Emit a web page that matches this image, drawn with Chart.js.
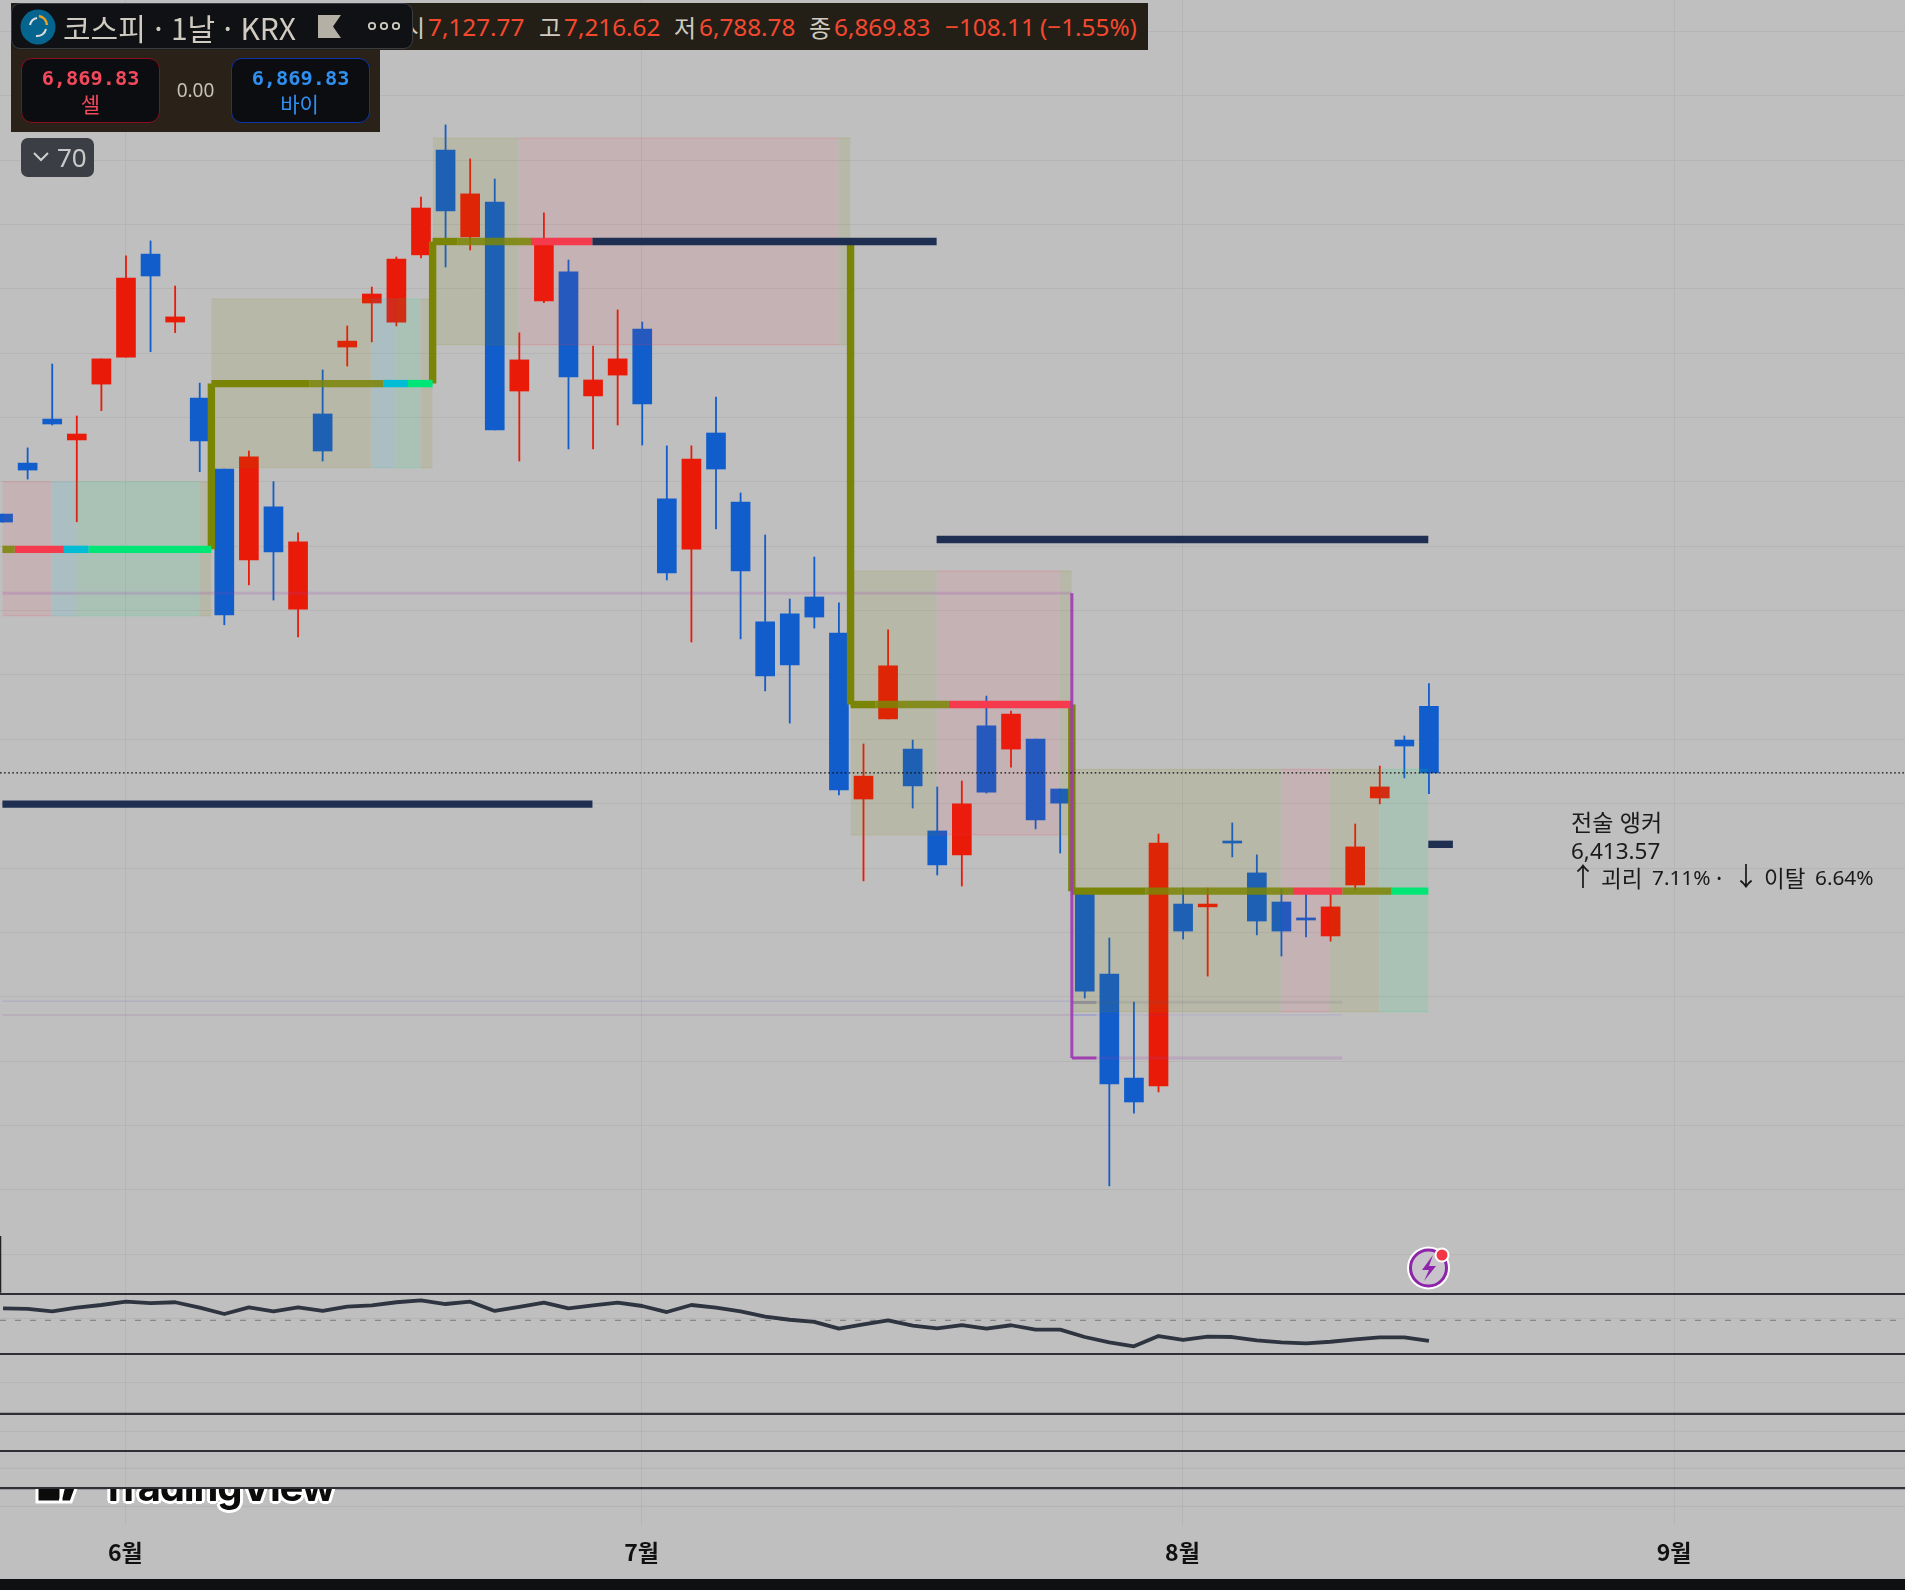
<!DOCTYPE html>
<html lang="ko"><head><meta charset="utf-8"><title>코스피 1날 KRX</title>
<script src="https://cdn.jsdelivr.net/npm/chart.js@4"></script>
<style>
html,body{margin:0;padding:0;background:#0f1012;}
#wrap{position:relative;width:1905px;height:1590px;overflow:hidden;background:#0f1012;}
#c{position:absolute;left:0;top:0;}
.abs{position:absolute;white-space:nowrap;}
.ui{font-family:"Noto Sans","Noto Sans CJK KR",sans-serif;}
.kr{font-family:"Noto Sans CJK KR","Noto Sans",sans-serif;}
.lab{color:#cfcbc0;font-size:24px;top:9px;line-height:36px;font-family:"Noto Sans CJK KR",sans-serif;}
.val{color:#f4492f;font-size:24.3px;top:9px;line-height:36px;font-family:"Noto Sans",sans-serif;}
.note{top:860px;font-size:22.5px;line-height:34px;color:#1a1a1a;font-family:"Noto Sans CJK KR",sans-serif;}
.num{top:860px;font-size:20.8px;line-height:34px;color:#1a1a1a;font-family:"Noto Sans",sans-serif;}
</style></head><body><div id="wrap">
<canvas id="c" width="1905" height="1579"></canvas>

<div class="abs" style="left:30px;top:1489px;width:320px;height:30px;overflow:hidden;">
  <div class="abs" style="left:70px;top:-30px;font:700 40px/56px Inter,sans-serif;letter-spacing:-1.2px;color:#0b0b0b;text-shadow:3px 0 0 #fff,-3px 0 0 #fff,0 3px 0 #fff,0 -3px 0 #fff,2.2px 2.2px 0 #fff,-2.2px 2.2px 0 #fff,2.2px -2.2px 0 #fff,-2.2px -2.2px 0 #fff;">TradingView</div>
  <svg class="abs" style="left:0;top:0" width="60" height="30"><path d="M7 -20H31V13H7Z M38 -20H53L41 13H30Z" fill="#0b0b0b" stroke="#fff" stroke-width="3"/></svg>
</div>

<div class="abs" style="left:11px;top:3px;width:1137px;height:47px;background:#231f17;"></div>
<div class="abs" style="left:11px;top:50px;width:369px;height:82px;background:#2a2118;"></div>
<span class="abs lab" style="left:403px;">시</span>
<span class="abs val" style="left:428px;">7,127.77</span>
<span class="abs lab" style="left:539px;">고</span>
<span class="abs val" style="left:564px;">7,216.62</span>
<span class="abs lab" style="left:674px;">저</span>
<span class="abs val" style="left:699px;">6,788.78</span>
<span class="abs lab" style="left:809px;">종</span>
<span class="abs val" style="left:834px;">6,869.83</span>
<span class="abs val" style="left:945px;">−108.11</span>
<span class="abs val" style="left:1040px;">(−1.55%)</span>

<div class="abs" style="left:11px;top:3px;width:402px;height:46px;background:#0f1114;border:1px solid #3a3d42;border-radius:9px;box-sizing:border-box;"></div>
<svg class="abs" style="left:19px;top:8px" width="38" height="38"><circle cx="19" cy="19" r="17.5" fill="#05658f"/><path d="M11 17A9 9 0 0 1 18 10" fill="none" stroke="#ddd" stroke-width="2"/><path d="M20 8A10 10 0 0 1 28 17" fill="none" stroke="#f0a020" stroke-width="2.5"/><path d="M27 21A9 9 0 0 1 17 28" fill="none" stroke="#ddd" stroke-width="2"/></svg>
<span class="abs kr" style="left:63px;top:6px;font-size:30px;line-height:42px;color:#cfcbc0;">코스피 · 1날 · KRX</span>
<svg class="abs" style="left:318px;top:15px" width="24" height="24"><path d="M0 0H23L15 11.5L23 23H0Z" fill="#b5b0a5"/></svg>
<svg class="abs" style="left:366px;top:19px" width="36" height="14" fill="none" stroke="#cfcbc0" stroke-width="1.8"><circle cx="6" cy="7" r="3.2"/><circle cx="18" cy="7" r="3.2"/><circle cx="30" cy="7" r="3.2"/></svg>

<div class="abs" style="left:21px;top:58px;width:139px;height:65px;background:#0c0d11;border:1.5px solid #8a0e20;border-radius:11px;box-sizing:border-box;"></div>
<span class="abs" style="left:21px;width:139px;top:64px;text-align:center;font:700 20.3px/28px 'DejaVu Sans Mono',monospace;color:#f4495c;">6,869.83</span>
<span class="abs kr" style="left:21px;width:139px;top:89px;text-align:center;font-size:21px;line-height:28px;color:#f4495c;">셀</span>
<span class="abs ui" style="left:160px;width:71px;top:76px;text-align:center;font-size:19px;line-height:28px;color:#c4c1b6;">0.00</span>
<div class="abs" style="left:231px;top:58px;width:139px;height:65px;background:#0c0d11;border:1.5px solid #0d35a8;border-radius:11px;box-sizing:border-box;"></div>
<span class="abs" style="left:231px;width:139px;top:64px;text-align:center;font:700 20.3px/28px 'DejaVu Sans Mono',monospace;color:#2f90f0;">6,869.83</span>
<span class="abs kr" style="left:230px;width:139px;top:89px;text-align:center;font-size:21px;line-height:28px;color:#2f90f0;">바이</span>

<div class="abs" style="left:21px;top:138px;width:73px;height:39px;background:#3b3e44;border-radius:7px;"></div>
<svg class="abs" style="left:32px;top:150px" width="18" height="14"><path d="M2 3L9 10L16 3" fill="none" stroke="#cfcfcf" stroke-width="2"/></svg>
<span class="abs ui" style="left:57px;top:138px;font-size:26px;line-height:39px;color:#c8c8c8;">70</span>

<span class="abs kr" style="left:1571px;top:804px;font-size:23px;line-height:34px;color:#1a1a1a;">전술 앵커</span>
<span class="abs ui" style="left:1571px;top:836px;font-size:22.5px;line-height:30px;color:#1a1a1a;">6,413.57</span>
<span class="abs note" style="left:1570px;top:858px;font-size:26px;">↑</span>
<span class="abs note" style="left:1601px;">괴리</span>
<span class="abs num" style="left:1652px;">7.11%</span>
<span class="abs note" style="left:1716px;">·</span>
<span class="abs note" style="left:1733px;top:858px;font-size:26px;">↓</span>
<span class="abs note" style="left:1764px;">이탈</span>
<span class="abs num" style="left:1815px;">6.64%</span>

<svg class="abs" style="left:1403px;top:1243px" width="52" height="50">
 <circle cx="25.5" cy="25" r="21.5" fill="#fff"/><circle cx="25.5" cy="25" r="18" fill="#c9c4cc" stroke="#8e24aa" stroke-width="3"/>
 <path d="M30 12L19 27H26L21 38L33 23H26Z" fill="#8e24aa"/>
 <circle cx="39" cy="12" r="7.5" fill="#fff"/><circle cx="39" cy="12" r="5.5" fill="#f23645"/>
</svg>
</div>
<script>
// ---------- candles (KOSPI daily) ----------
const bars = [0,1,2,3,4,5,6,7,8,9,10,11,12,13,14,15,16,17,18,19,20,21,22,23,24,25,26,27,28,29,30,31,32,33,34,35,36,37,38,39,40,41,42,43,44,45,46,47,48,49,50,51,52,53,54,55,56,57,58];
const opens  = [7875,8073,8244,8163,8380,8485,8885,8621,8326,8050,7697,7903,7506,8264,8524,8695,8621,8882,9289,8952,9087,8353,8703,8816,8334,8415,8594,7934,7739,8190,7922,7456,7487,7553,7413,6768,7079,6962,6644,6551,7052,6962,7001,6807,6418,6088,5684,5653,6360,6349,6605,6481,6368,6306,6236,6434,6772,6997,7127.77];
const highs  = [7875,8132,8458,8256,8478,8878,8936,8761,8384,8050,8120,8001,7802,8435,8606,8757,8874,9107,9387,9255,9177,8579,9045,8862,8528,8668,8621,8140,8140,8330,7957,7794,7545,7708,7530,6982,7425,6997,6815,6838,7168,7110,7001,6807,6418,6228,5979,6632,6422,6422,6675,6551,6418,6414,6414,6671,6896,7013,7216.62];
const lows   = [7844,8011,8221,7845,8277,8485,8506,8580,8040,7445,7600,7541,7398,8081,8450,8544,8606,8870,8835,8901,8202,8081,8696,8128,8128,8221,8143,7619,7378,7817,7390,7188,7063,7432,6784,6450,7079,6733,6473,6430,6791,6892,6652,6558,5995,5265,5548,5630,6224,6080,6543,6240,6158,6232,6216,6414,6749,6850,6788.78];
const closes = [7844,8046,8225,8186,8478,8792,8800,8641,8159,7483,8097,7728,7767,8120,8547,8730,8866,9064,9053,9119,8202,8474,8936,8408,8396,8478,8303,7646,8089,8050,7654,7246,7289,7475,6803,6857,7285,6819,6512,6749,6795,7098,6687,6752,6022,5661,5591,6597,6255,6360,6597,6294,6255,6298,6349,6582,6815,6974,6869.83];

// ---------- lower pane oscillator ----------
const oscValues = [60.9,60.3,58.2,61.5,63.9,66.9,65.7,66.4,61.5,55.7,61.8,58.2,61.8,58.5,62.4,63.6,66.4,68.2,64.8,66.9,58.5,62.1,66,60.9,63.6,66,63,57.5,63.9,61.5,58.2,53.3,50.5,48.5,42.4,46.4,50,45.1,42.6,45.7,42.4,45.5,41.5,41.5,34.8,30,26.4,35.7,32.1,35.1,34.8,31.8,30,29.1,30.5,32.7,34.5,34.5,31.2];
const oscMid = 50;

// ---------- month ticks ----------
const monthBars = [5,26,48,68];
const monthLabels = ['6월','7월','8월','9월'];

// ---------- zones: start bar, end bar, top price, bottom price ----------
const zoneRanges = [
 [0,2,8000,7480],[2,3,8000,7480],[3,8,8000,7480],[8,8.5,8000,7480],
 [8.5,15,8711,8055],[15,16,8711,8055],[16,17,8711,8055],[17,17.5,8711,8055],
 [17.5,21,9336,8533],[21,34,9336,8533],[34,34.5,9336,8533],
 [34.5,38,7654,6629],[38,43,7654,6629],[43,43.5,7654,6629],
 [43.5,52,6883.5,5942],[52,54,6883.5,5942],[54,56,6883.5,5942],[56,58,6883.5,5942]
];
const zoneKinds = ['bear','flat','bull','side','side','flat','bull','side','side','bear','side','side','bear','side','side','bear','side','bull'];

// ---------- anchor level segments: start bar, end bar, price ----------
const anchorSegments = [
 [0,0.5,7738],[0.5,2.5,7738],[2.5,3.5,7738],[3.5,8.5,7738],
 [8.5,12.5,8382],[12.5,15.5,8382],[15.5,16.5,8382],[16.5,17.5,8382],
 [17.5,18.5,8934],[18.5,21.5,8934],[21.5,24,8934],
 [34.5,35.5,7135],[35.5,38.5,7135],[38.5,43.5,7135],
 [43.5,46.5,6410],[46.5,52.5,6410],[52.5,54.5,6410],[54.5,56.5,6410],[56.5,58,6410]
];
const anchorKinds = ['soft','bear','flat','bull','solid','soft','flat','bull','solid','soft','bear','solid','soft','bear','solid','soft','bear','soft','bull'];
// anchor steps: bar, from price, to price
const anchorSteps = [[8.5,7738,8382],[17.5,8382,8934],[34.5,8934,7135],[43.5,7135,6410]];
// navy levels: start bar, end bar, price
const navyLevels = [[0,24,6748],[24,38,8934],[38,58,7776],[58,59,6592]];
const lastClose = 6869.83;
// purple bracket
const bracketVertical = [43.5,7567,5762];
const bracketFoot = [43.5,44.5,5762];
const faintLevels = [[0,43.5,7567,'purple'],[44.5,54.5,5762,'purple'],[44.5,54.5,5978,'grey'],[0,43.5,5983,'lav'],[0,43.5,5929,'lav2'],[44.5,54.5,5929,'lav']];
const greyStub = [43.5,44.5,5978];
const blueStub = [43.5,44.5,5929];
// pane separators, pane grid and the short edge tick, on the price axis
const paneLines = [4845,4612,4379,4235,4091];
const paneGrid = [4311.6,4167.8,4020];
const edgeTick = [5070,4850];

// ---------- styles ----------
const X_MIN=-0.098, X_MAX=77.39, X_NUDGE=0.026, Y_MAX=9872.2, Y_MIN=3947.6;
const UP='#ea1a08', DOWN='#115dcb';
const zoneFill={side:'rgba(128,128,0,.115)',bear:'rgba(247,57,75,.095)',flat:'rgba(0,188,212,.1)',bull:'rgba(0,230,118,.105)'};
const zoneEdge={side:'rgba(128,128,0,.12)',bear:'rgba(247,57,75,.16)',flat:'rgba(0,188,212,.12)',bull:'rgba(0,230,118,.14)'};
const lineColor={solid:'#7a8506',soft:'rgba(122,133,6,.86)',bear:'#f53a4e',flat:'#00bcd4',bull:'#00e676'};
const faintColor={purple:'rgba(160,60,180,.18)',grey:'rgba(90,90,100,.12)',lav:'rgba(90,80,220,.16)',lav2:'rgba(150,90,170,.2)'};
const faintWidth={purple:3,grey:3,lav:1.2,lav2:1.4};
const NAVY='#1e2f52', PURPLE='#a040b0', INK='#2e3440';

const base={type:'line',pointRadius:0,pointHoverRadius:0,tension:0,borderCapStyle:'butt',borderJoinStyle:'miter',fill:false,yAxisID:'y',xAxisID:'x'};
const seg=(x0,y0,x1,y1,color,width,order,extra)=>Object.assign({},base,{data:[{x:x0,y:y0},{x:x1,y:y1}],borderColor:color,borderWidth:width,order},extra||{});

const datasets=[];
paneGrid.forEach(p=>datasets.push(seg(X_MIN,p,X_MAX,p,'#b3b3b3',1,90)));
// wicks and bodies
datasets.push({type:'bar',data:bars.map((b,i)=>({x:b,y:[lows[i],highs[i]]})),backgroundColor:bars.map((b,i)=>closes[i]<opens[i]?DOWN:UP),barThickness:1.15,grouped:false,borderWidth:0,order:60,xAxisID:'xC',yAxisID:'y'});
datasets.push({type:'bar',data:bars.map((b,i)=>({x:b,y:[opens[i],closes[i]]})),backgroundColor:bars.map((b,i)=>closes[i]<opens[i]?DOWN:UP),barThickness:19,grouped:false,borderWidth:0,order:59,xAxisID:'xC',yAxisID:'y'});
// zones
zoneRanges.forEach((z,i)=>{
  const k=zoneKinds[i];
  datasets.push(seg(z[0],z[3],z[1],z[3],zoneEdge[k],1.2,50));
  datasets.push(seg(z[0],z[2],z[1],z[2],zoneEdge[k],1.2,50,{fill:{target:{value:z[3]}},backgroundColor:zoneFill[k]}));
});
// faint levels
faintLevels.forEach(f=>datasets.push(seg(f[0],f[2],f[1],f[2],faintColor[f[3]],faintWidth[f[3]],40)));
datasets.push(seg(greyStub[0],greyStub[2],greyStub[1],greyStub[2],'#8f8f95',3,38));
datasets.push(seg(blueStub[0],blueStub[2],blueStub[1],blueStub[2],'rgba(90,90,230,.45)',1.2,38));
// olive steps
anchorSteps.forEach(s=>datasets.push(seg(s[0],s[1],s[0],s[2],lineColor.solid,7.4,30)));
// anchor levels
anchorSegments.forEach((s,i)=>datasets.push(seg(s[0],s[2],s[1],s[2],lineColor[anchorKinds[i]],7.4,28)));
// navy levels
navyLevels.forEach(n=>datasets.push(seg(n[0],n[2],n[1],n[2],NAVY,7.4,26)));
// purple bracket
datasets.push(seg(bracketVertical[0],bracketVertical[1],bracketVertical[0],bracketVertical[2],'rgba(160,60,180,.92)',3,24));
datasets.push(seg(bracketFoot[0],bracketFoot[2],bracketFoot[1],bracketFoot[2],PURPLE,3,24));
// last price
datasets.push(seg(X_MIN,lastClose,X_MAX,lastClose,'#111',1.3,20,{borderDash:[1.6,2.5]}));
// pane
datasets.push(seg(-0.075,edgeTick[0],-0.075,edgeTick[1],'#222',1.4,13));
paneLines.forEach(p=>datasets.push(seg(X_MIN,p,X_MAX,p,'#2e3036',2.2,12)));
datasets.push(Object.assign({},base,{data:[{x:X_MIN,y:oscMid},{x:X_MAX,y:oscMid}],borderColor:'#7a7a7e',borderWidth:1,borderDash:[6,9],order:11,yAxisID:'yOsc'}));
datasets.push(Object.assign({},base,{data:bars.map((b,i)=>({x:b,y:oscValues[i]})),borderColor:INK,borderWidth:3.8,borderJoinStyle:'round',order:10,yAxisID:'yOsc',xAxisID:'xC'}));

const backdrop={id:'backdrop',beforeDraw(c){const g=c.ctx;g.save();g.fillStyle='#bfbfbf';g.fillRect(0,0,c.width,c.height);g.restore();}};

new Chart(document.getElementById('c'),{
  type:'bar',
  data:{datasets},
  plugins:[backdrop],
  options:{
    responsive:false,animation:false,devicePixelRatio:1,
    layout:{padding:0},
    plugins:{legend:{display:false},tooltip:{enabled:false},filler:{drawTime:'beforeDatasetDraw'}},
    elements:{bar:{borderSkipped:false}},
    scales:{
      x:{type:'linear',min:X_MIN,max:X_MAX,offset:false,position:'bottom',
         afterBuildTicks(s){s.ticks=monthBars.map(v=>({value:v}));},
         afterFit(s){s.height=54;},
         grid:{offset:false,color:'#b5b5b5',lineWidth:1,drawTicks:false},border:{display:false},
         ticks:{autoSkip:false,maxRotation:0,padding:13,color:'#111',font:{family:'"Noto Sans CJK KR"',size:23,weight:'700'},
                callback:v=>monthLabels[monthBars.indexOf(v)]||''}},
      xC:{type:'linear',min:X_MIN-X_NUDGE,max:X_MAX-X_NUDGE,offset:false,display:false},
      y:{type:'linear',min:Y_MIN,max:Y_MAX,position:'left',
         afterFit(s){s.width=0;},
         grid:{drawTicks:false,lineWidth:1,color:c=>c.tick.value<4300?'transparent':'#b5b5b5'},border:{display:false},
         ticks:{display:false,stepSize:250,includeBounds:false}},
      yOsc:{type:'linear',min:-136.1,max:1250.3,display:false}
    }
  }
});
</script></body></html>
